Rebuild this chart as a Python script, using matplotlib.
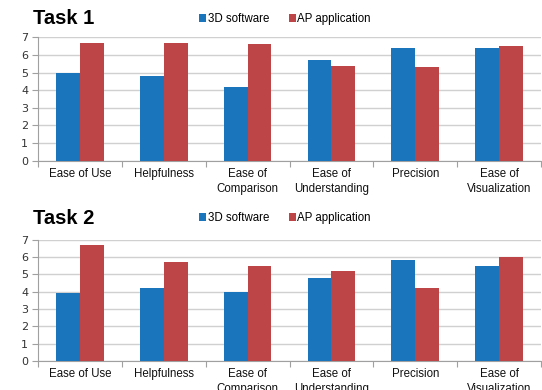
import matplotlib
matplotlib.use("Agg")
import matplotlib.pyplot as plt
import numpy as np

categories = ["Ease of Use", "Helpfulness", "Ease of\nComparison",
              "Ease of\nUnderstanding", "Precision", "Ease of\nVisualization"]
series_names = ["3D software", "AP application"]
task1_3d = [5.0, 4.8, 4.2, 5.7, 6.4, 6.4]
task1_ap = [6.7, 6.7, 6.6, 5.4, 5.3, 6.5]
task2_3d = [3.9, 4.2, 4.0, 4.8, 5.8, 5.5]
task2_ap = [6.7, 5.7, 5.5, 5.2, 4.2, 6.0]
titles = ["Task 1", "Task 2"]
yticks = [0, 1, 2, 3, 4, 5, 6, 7]

BLUE = "#1a75bc"
RED = "#be4547"
GRID = "#d0d0d0"
AX = "#a0a0a0"

plt.rcParams['font.family'] = ['Liberation Sans', 'DejaVu Sans']

fig = plt.figure(figsize=(5.42, 3.90), dpi=100)
W, H = 542, 390

def px_axes(left, right, top, bottom):
    return fig.add_axes([left / W, 1 - bottom / H, (right - left) / W, (bottom - top) / H])

panels = [
    (task1_3d, task1_ap, titles[0], 37.3, 160.7, 19, 19),
    (task2_3d, task2_ap, titles[1], 239.5, 361.0, 219, 218),
]

x = np.arange(len(categories))
bw = 0.285
for s3d, sap, title, top, bottom, title_y, leg_y in panels:
    ax = px_axes(38, 541, top, bottom)
    ax.bar(x - bw / 2, s3d, width=bw, color=BLUE, label=series_names[0], zorder=3)
    ax.bar(x + bw / 2, sap, width=bw, color=RED, label=series_names[1], zorder=3)
    ax.set_xlim(-0.5, len(categories) - 0.5)
    ax.set_ylim(0, 7)
    ax.set_yticks(yticks)
    ax.set_yticklabels([str(t) for t in yticks], fontsize=8, color="#333333",
                       family=['DejaVu Sans'])
    ax.yaxis.grid(True, color=GRID, linewidth=1.0, zorder=0)
    ax.set_axisbelow(True)
    for sp in ["top", "right"]:
        ax.spines[sp].set_visible(False)
    ax.spines["left"].set_color(AX)
    ax.spines["bottom"].set_color(AX)
    ax.tick_params(axis="y", length=4, color=AX, pad=3, width=0.8)
    # category labels
    ax.set_xticks(x)
    ax.set_xticklabels(categories, fontsize=8.3, color="#111111", linespacing=1.35)
    ax.tick_params(axis="x", which="major", length=0, pad=5)
    ax.set_xticks(np.arange(len(categories) + 1) - 0.5, minor=True)
    ax.tick_params(axis="x", which="minor", length=4, color=AX, width=0.8)
    fig.text(33 / W, 1 - title_y / H, title, fontsize=14.5, fontweight="bold",
             va="center", ha="left", color="black")
    ax.legend(loc="center", bbox_to_anchor=(285 / W, 1 - leg_y / H),
              bbox_transform=fig.transFigure, ncol=2, frameon=False,
              fontsize=8.3, handlelength=0.6, handleheight=0.6,
              handletextpad=0.15, columnspacing=1.7, borderpad=0)

fig.savefig("out.png", dpi=100)
